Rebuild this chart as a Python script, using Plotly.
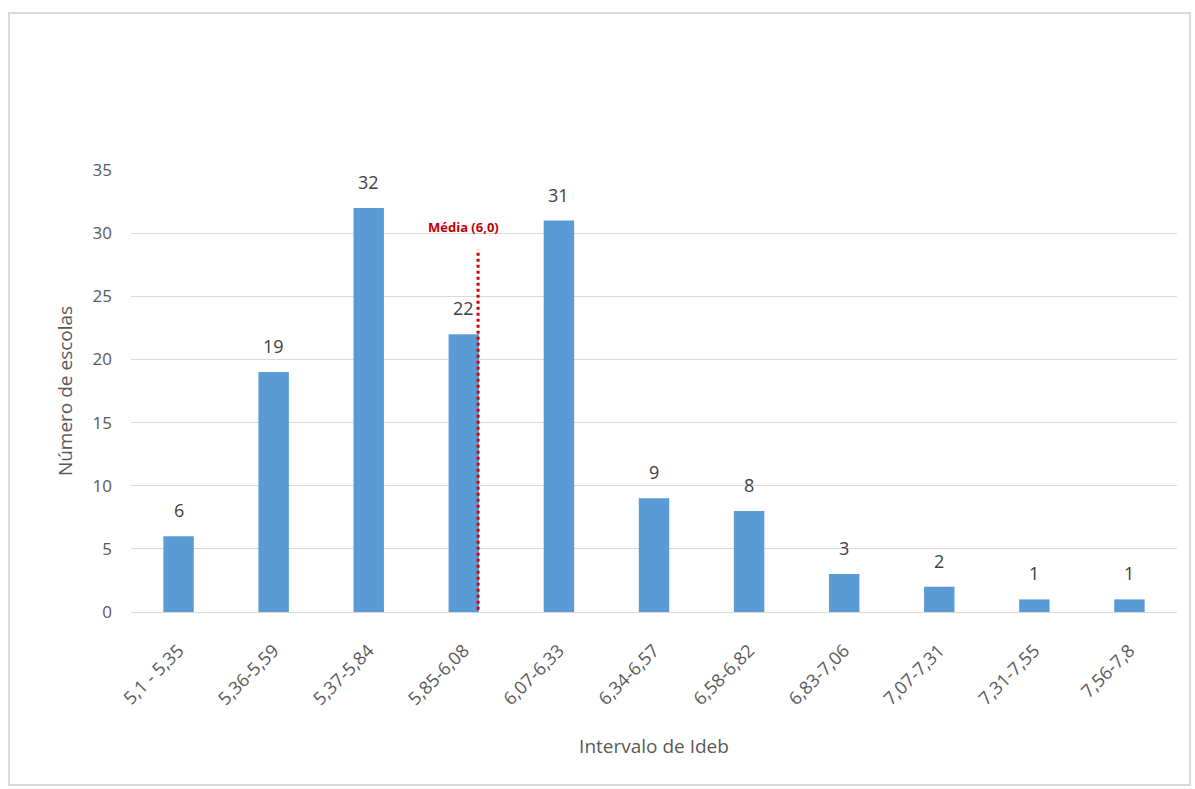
import plotly.graph_objects as go

# Distribuição das escolas por intervalo de Ideb
intervalos = ["5,1 - 5,35", "5,36-5,59", "5,37-5,84", "5,85-6,08", "6,07-6,33",
              "6,34-6,57", "6,58-6,82", "6,83-7,06", "7,07-7,31", "7,31-7,55", "7,56-7,8"]
escolas = [6, 19, 32, 22, 31, 9, 8, 3, 2, 1, 1]

media_label = "Média (6,0)"
media_pos = 3.15      # posição da média no eixo categórico
media_topo = 28.7

W, H = 1195, 789
ml, mr, mt, mb = 131, 18, 170, 177
FONT = "Open Sans"
CINZA = "#595959"

fig = go.Figure()
fig.add_trace(go.Bar(
    x=list(range(len(intervalos))), y=escolas,
    marker=dict(color="#5b9bd5", line=dict(width=0)),
    width=0.32,
))

# rótulos de valor acima das barras
for i, v in enumerate(escolas):
    fig.add_annotation(x=i, y=v, xref="x", yref="y", text=str(v),
                       showarrow=False, yanchor="bottom", yshift=12,
                       font=dict(size=18, color="#404040", family=FONT))

fig.add_shape(type="line", xref="x", yref="y",
              x0=media_pos, x1=media_pos, y0=-0.3, y1=media_topo,
              line=dict(color="#d00000", width=3, dash="dot"))
fig.add_annotation(x=media_pos - 0.15, y=media_topo + 0.9, xref="x", yref="y",
                   text="<b>" + media_label + "</b>", showarrow=False,
                   yanchor="bottom",
                   font=dict(size=13, color="#c00000", family=FONT))

# moldura externa do gráfico
pw, ph = W - ml - mr, H - mt - mb
def px(v): return (v - ml) / pw
def py(v): return (H - mb - v) / ph
fig.add_shape(type="rect", xref="paper", yref="paper",
              x0=px(9), x1=px(1190), y0=py(785), y1=py(13),
              line=dict(color="#d9d9d9", width=2))

fig.update_layout(
    width=W, height=H,
    margin=dict(l=ml, r=mr, t=mt, b=mb),
    paper_bgcolor="white", plot_bgcolor="white",
    showlegend=False,
    font=dict(family=FONT, color=CINZA),
    xaxis=dict(
        tickmode="array", tickvals=list(range(len(intervalos))), ticktext=intervalos,
        range=[-0.5, len(intervalos) - 0.5], tickangle=-45,
        tickfont=dict(size=18, color=CINZA),
        ticklabelstandoff=20,
        showgrid=False, showline=True, linecolor="#d9d9d9", linewidth=1,
        ticks="",
        title=dict(text="Intervalo de Ideb", font=dict(size=19, color=CINZA), standoff=30),
    ),
    yaxis=dict(
        range=[0, 35], dtick=5, tickfont=dict(size=17, color=CINZA),
        ticklabelstandoff=18,
        showgrid=True, gridcolor="#d9d9d9", gridwidth=1, zeroline=False,
        ticks="", ticklen=0,
        title=dict(text="Número de escolas", font=dict(size=19, color=CINZA), standoff=14),
    ),
)

fig.write_html("out.html")
